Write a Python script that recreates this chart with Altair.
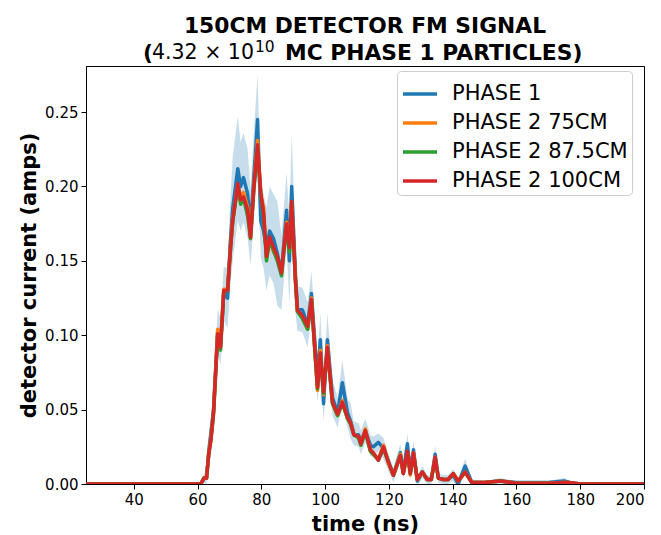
import altair as alt
import pandas as pd

times = [25, 60, 61, 62, 62.8, 63.5, 64.2, 65, 66.3, 67.2,
         68.2, 69.4, 70.2, 71, 72.6, 73.5, 74.4, 75.7, 76.6, 77.6,
         78.8, 79.8, 80.7, 81.6, 82.6, 83.8, 85, 86.3, 87.9, 88.8,
         89.5, 90.7, 91.3, 92.9, 94.5, 95.7, 97.6, 98.5, 99.5, 100.7,
         102.3, 103.9, 105.4, 107, 108, 109, 110.5, 111.2, 112.6, 114.2,
         115.1, 116.7, 118.3, 119.8, 121.4, 123.6, 124.5, 125.8, 126.7, 127.7,
         128.9, 130.5, 132, 133.3, 134.5, 135.5, 137, 138.5, 140.2, 141.7,
         143.9, 146, 150, 155, 160, 165, 170, 175, 176.5, 180, 190, 200]

phase1 = [0, 0, 0, 0.004, 0.004, 0.022, 0.035, 0.050, 0.103, 0.095,
          0.128, 0.125, 0.160, 0.185, 0.212, 0.200, 0.206, 0.195, 0.172, 0.205,
          0.245, 0.177, 0.170, 0.158, 0.170, 0.165, 0.155, 0.142, 0.184, 0.150,
          0.200, 0.140, 0.118, 0.117, 0.107, 0.128, 0.070, 0.097, 0.054, 0.097,
          0.058, 0.048, 0.068, 0.048, 0.042, 0.034, 0.033, 0.028, 0.036, 0.026,
          0.025, 0.028, 0.024, 0.015, 0.006, 0.021, 0.008, 0.027, 0.008, 0.023,
          0.002, 0.008, 0.003, 0.003, 0.020, 0.004, 0.003, 0.003, 0.006, 0.000,
          0.012, 0.001, 0.001, 0.002, 0.001, 0.001, 0.001, 0.002, 0.001, 0, 0, 0]

phase1_err = [0, 0, 0, 0.003, 0.004, 0.008, 0.010, 0.012, 0.015, 0.015,
              0.018, 0.020, 0.028, 0.035, 0.035, 0.030, 0.030, 0.030, 0.025, 0.030,
              0.030, 0.025, 0.025, 0.028, 0.030, 0.030, 0.035, 0.025, 0.025, 0.030,
              0.035, 0.025, 0.015, 0.015, 0.015, 0.015, 0.015, 0.018, 0.012, 0.018,
              0.012, 0.010, 0.015, 0.010, 0.012, 0.008, 0.008, 0.008, 0.008, 0.007,
              0.007, 0.006, 0.007, 0.006, 0.005, 0.006, 0.005, 0.007, 0.005, 0.006,
              0.004, 0.004, 0.003, 0.003, 0.006, 0.003, 0.003, 0.003, 0.004, 0.003,
              0.005, 0.002, 0.001, 0.002, 0.001, 0.001, 0.001, 0.002, 0.001, 0, 0, 0]

phase2_75 = [0, 0, 0, 0.004, 0.004, 0.021, 0.031, 0.049, 0.104, 0.093,
             0.131, 0.131, 0.156, 0.178, 0.201, 0.193, 0.196, 0.186, 0.165, 0.199,
             0.231, 0.194, 0.186, 0.152, 0.164, 0.156, 0.152, 0.141, 0.176, 0.157,
             0.189, 0.136, 0.116, 0.112, 0.104, 0.125, 0.063, 0.090, 0.060, 0.093,
             0.054, 0.046, 0.056, 0.044, 0.041, 0.034, 0.031, 0.027, 0.037, 0.022,
             0.020, 0.017, 0.026, 0.014, 0.006, 0.020, 0.007, 0.021, 0.006, 0.021,
             0.003, 0.008, 0.003, 0.003, 0.018, 0.004, 0.003, 0.003, 0.007, 0.002,
             0.008, 0.001, 0.001, 0.002, 0.0005, 0.0005, 0.0005, 0.001, 0.001, 0, 0, 0]

phase2_875 = [0, 0, 0, 0.004, 0.004, 0.020, 0.030, 0.047, 0.100, 0.090,
              0.129, 0.130, 0.154, 0.176, 0.200, 0.188, 0.192, 0.180, 0.165, 0.197,
              0.226, 0.195, 0.180, 0.150, 0.164, 0.157, 0.150, 0.140, 0.173, 0.156,
              0.188, 0.136, 0.116, 0.111, 0.104, 0.123, 0.064, 0.087, 0.061, 0.091,
              0.054, 0.046, 0.054, 0.044, 0.040, 0.033, 0.031, 0.026, 0.035, 0.022,
              0.020, 0.016, 0.024, 0.015, 0.006, 0.019, 0.007, 0.021, 0.007, 0.020,
              0.003, 0.008, 0.003, 0.003, 0.017, 0.004, 0.003, 0.003, 0.007, 0.002,
              0.008, 0.001, 0.001, 0.002, 0.0005, 0.0005, 0.0005, 0.001, 0.001, 0, 0, 0]

phase2_100 = [0, 0, 0, 0.004, 0.004, 0.020, 0.030, 0.048, 0.101, 0.092,
              0.130, 0.130, 0.155, 0.177, 0.202, 0.191, 0.193, 0.184, 0.166, 0.198,
              0.228, 0.196, 0.182, 0.153, 0.166, 0.159, 0.153, 0.142, 0.175, 0.159,
              0.190, 0.137, 0.117, 0.113, 0.106, 0.124, 0.065, 0.088, 0.062, 0.092,
              0.055, 0.047, 0.055, 0.045, 0.041, 0.033, 0.032, 0.027, 0.036, 0.023,
              0.021, 0.016, 0.025, 0.015, 0.006, 0.019, 0.007, 0.022, 0.007, 0.021,
              0.003, 0.008, 0.003, 0.003, 0.018, 0.004, 0.003, 0.003, 0.007, 0.002,
              0.008, 0.001, 0.001, 0.002, 0.0005, 0.0005, 0.0005, 0.001, 0.001, 0, 0, 0]

series_names = ["PHASE 1", "PHASE 2 75CM", "PHASE 2 87.5CM", "PHASE 2 100CM"]
series_colors = ["#1f77b4", "#ff7f0e", "#2ca02c", "#d62728"]
x_ticks = [40, 60, 80, 100, 120, 140, 160, 180, 200]
y_ticks = [0.0, 0.05, 0.10, 0.15, 0.20, 0.25]

title_line1 = "150CM DETECTOR FM SIGNAL"
title_open = "("
title_number = "4.32 × 10"
title_exponent = "10"
title_rest = "MC PHASE 1 PARTICLES)"

for arr in (phase1, phase1_err, phase2_75, phase2_875, phase2_100):
    assert len(arr) == len(times)

band_df = pd.DataFrame({
    "time": times,
    "lo": [v - e for v, e in zip(phase1, phase1_err)],
    "hi": [v + e for v, e in zip(phase1, phase1_err)],
})

rows = []
for name, vals in zip(series_names, [phase1, phase2_75, phase2_875, phase2_100]):
    for t, v in zip(times, vals):
        rows.append({"time": t, "current": v, "series": name})
line_df = pd.DataFrame(rows)

x_scale = alt.Scale(domain=[25, 200], nice=False, zero=False)
y_scale = alt.Scale(domain=[0, 0.281], nice=False)

x_axis = alt.Axis(title="time (ns)", values=x_ticks, format="d", grid=False)
y_axis = alt.Axis(title="detector current (amps)", values=y_ticks, format=".2f", grid=False)

band = alt.Chart(band_df).mark_area(color="#1f77b4", opacity=0.25, clip=True).encode(
    x=alt.X("time:Q", scale=x_scale, axis=x_axis),
    y=alt.Y("lo:Q", scale=y_scale, axis=y_axis),
    y2="hi:Q",
)

color_scale = alt.Scale(domain=series_names, range=series_colors)

layers = [band]
for name in series_names:
    layers.append(
        alt.Chart(line_df).transform_filter(alt.datum.series == name)
        .mark_line(strokeWidth=3.5, strokeJoin="round", clip=True)
        .encode(
            x=alt.X("time:Q", scale=x_scale, axis=x_axis),
            y=alt.Y("current:Q", scale=y_scale, axis=y_axis),
            color=alt.Color("series:N", scale=color_scale, legend=alt.Legend(title=None)),
        )
    )

# title text (two lines, second line with mixed weights like matplotlib mathtext)
one = pd.DataFrame({"k": [0]})
BOLD = 21.8
REG = 20.5
SUP = 15.5
cx = 279
line1_y = -40
line2_y = -13
title_parts = [
    (title_line1, cx, line1_y, "center", BOLD, "bold"),
    (title_open, 57, line2_y, "left", BOLD, "bold"),
    (title_number, 66, line2_y, "left", REG, "normal"),
    (title_exponent, 169, line2_y - 6, "left", SUP, "normal"),
    (title_rest, 199, line2_y, "left", BOLD, "bold"),
]
for txt, px, py, al, fs, fw in title_parts:
    layers.append(
        alt.Chart(one).mark_text(
            text=txt, align=al, baseline="middle", fontSize=fs, fontWeight=fw,
            color="black", font="DejaVu Sans",
        ).encode(x=alt.value(px), y=alt.value(py))
    )

chart = alt.layer(*layers).properties(
    width=558,
    height=418,
    autosize=alt.AutoSizeParams(type="none"),
    padding={"left": 78, "top": 58, "right": 9, "bottom": 53},
).configure(
    font="DejaVu Sans",
).configure_view(
    stroke="black", strokeWidth=1,
).configure_axis(
    labelFontSize=15, labelColor="black", titleFontSize=21, titleFontWeight="bold",
    titleColor="black", tickColor="black", domainColor="black", tickSize=5,
    labelPadding=3, domainWidth=1,
).configure_axisX(
    titlePadding=6,
).configure_axisY(
    titlePadding=5,
).configure_legend(
    orient="none", legendX=311, legendY=5, labelFontSize=21, labelColor="black",
    symbolType="stroke", symbolSize=1156, symbolStrokeWidth=3.5,
    strokeColor="#cccccc", cornerRadius=4, padding=4, fillColor="rgba(255,255,255,0.8)",
    rowPadding=0, labelLimit=400, labelOffset=13,
)

chart.save("out.html", embed_options={"renderer": "svg", "actions": False})
